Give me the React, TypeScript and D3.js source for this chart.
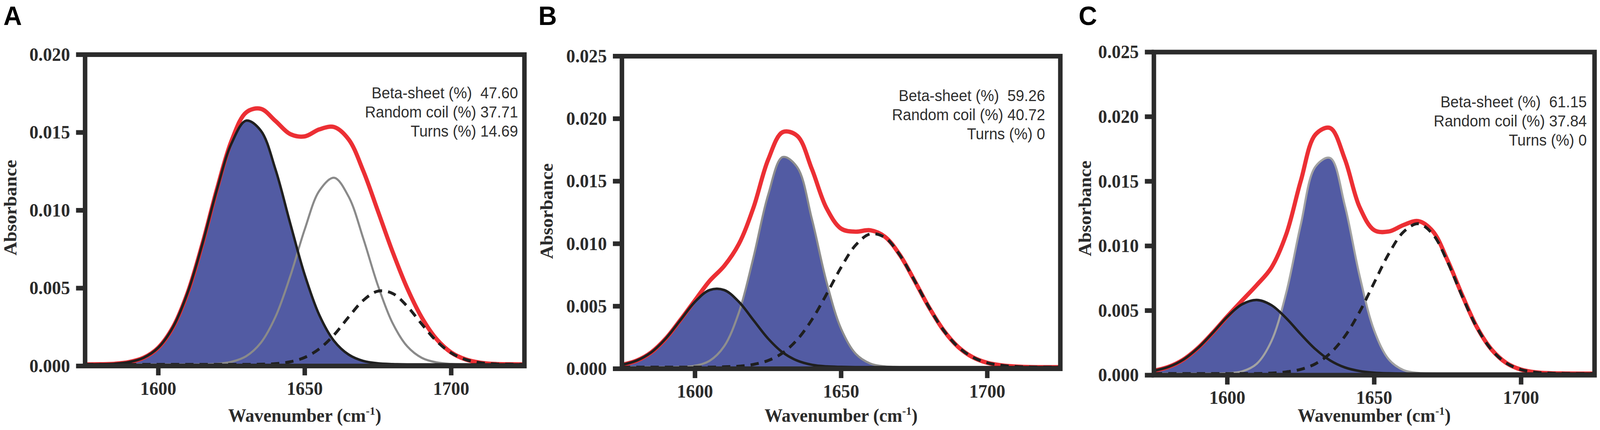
import React, { useEffect, useRef } from 'react';
import * as d3 from 'd3';

// sampled wavenumbers (cm-1) shared by every curve
const wavenumbers = [
  1575, 1580, 1585, 1590, 1595, 1600, 1605, 1610, 1615, 1620, 1625, 1630, 1635, 1640, 1645, 1650,
  1655, 1660, 1665, 1670, 1675, 1680, 1685, 1690, 1695, 1700, 1705, 1710, 1715, 1720, 1725,
];
const xTicks = [1600, 1650, 1700];
const yTicksA = [0, 0.005, 0.01, 0.015, 0.02];
const yTicksBC = [0, 0.005, 0.01, 0.015, 0.02, 0.025];

// Panel A
const aBetaSheet = [
  0, 0.00001, 0.00004, 0.00015, 0.00043, 0.00108, 0.00239, 0.0046, 0.0077, 0.01121, 0.0142, 0.01566,
  0.01502, 0.01253, 0.00909, 0.00575, 0.00316, 0.00151, 0.00063, 0.00022, 0.00007, 0.00002, 0, 0, 0,
  0, 0, 0, 0, 0, 0,
];
const aRandomCoil = [
  0, 0, 0, 0, 0, 0, 0, 0, 0.00001, 0.00004, 0.00017, 0.00053, 0.00139, 0.00306, 0.00564, 0.00868,
  0.01116, 0.01199, 0.01077, 0.00808, 0.00506, 0.00265, 0.00116, 0.00042, 0.00013, 0.00003, 0.00001,
  0, 0, 0, 0,
];
const aTurns = [
  0, 0, 0, 0, 0, 0, 0, 0, 0, 0, 0, 0, 0.00001, 0.00005, 0.00017, 0.00045, 0.00101, 0.0019, 0.00305,
  0.00412, 0.00471, 0.00456, 0.00373, 0.00258, 0.0015, 0.00074, 0.00031, 0.00011, 0.00003, 0.00001, 0,
];
const aFit = [
  0, 0.00001, 0.00004, 0.00015, 0.00043, 0.00108, 0.00239, 0.0046, 0.00771, 0.01125, 0.01437, 0.01619,
  0.01642, 0.01564, 0.0148, 0.01465, 0.0151, 0.01525, 0.01445, 0.01242, 0.00984, 0.00723, 0.00489,
  0.003, 0.00163, 0.00077, 0.00032, 0.00011, 0.00003, 0.00001, 0,
];
const notesA = ['Beta-sheet (%)  47.60', 'Random coil (%) 37.71', 'Turns (%) 14.69'];

// Panel B
const bBetaLow = [
  0.00019, 0.00052, 0.00118, 0.00229, 0.00376, 0.00523, 0.00617, 0.00617, 0.00523, 0.00376, 0.00229,
  0.00118, 0.00052, 0.00019, 0.00006, 0.00002, 0, 0, 0, 0, 0, 0, 0, 0, 0, 0, 0, 0, 0, 0, 0,
];
const bBetaHigh = [
  0, 0, 0, 0, 0.00002, 0.00012, 0.00051, 0.00168, 0.00436, 0.00878, 0.01376, 0.01681, 0.01599,
  0.01185, 0.00683, 0.00307, 0.00107, 0.00029, 0.00006, 0.00001, 0, 0, 0, 0, 0, 0, 0, 0, 0, 0, 0,
];
const bRandomCoil = [
  0, 0, 0, 0, 0, 0, 0, 0.00003, 0.00008, 0.00022, 0.00053, 0.00114, 0.00221, 0.0038, 0.00583, 0.00799,
  0.00977, 0.01066, 0.01037, 0.009, 0.00697, 0.00482, 0.00297, 0.00163, 0.0008, 0.00035, 0.00014,
  0.00005, 0.00001, 0, 0,
];
const bFit = [
  0.00019, 0.00052, 0.00118, 0.00229, 0.00378, 0.00535, 0.0069, 0.0081, 0.00985, 0.01276, 0.01658,
  0.0188, 0.0185, 0.01584, 0.01272, 0.01108, 0.01084, 0.01095, 0.01043, 0.00901, 0.00697, 0.00482,
  0.00297, 0.00163, 0.0008, 0.00035, 0.00014, 0.00005, 0.00001, 0, 0,
];
const notesB = ['Beta-sheet (%)  59.26', 'Random coil (%) 40.72', 'Turns (%) 0'];

// Panel C
const cBetaLow = [
  0.00022, 0.00052, 0.00108, 0.00198, 0.00315, 0.0044, 0.00536, 0.0057, 0.0053, 0.0043, 0.00305,
  0.00189, 0.00102, 0.00048, 0.0002, 0.00007, 0.00002, 0, 0, 0, 0, 0, 0, 0, 0, 0, 0, 0, 0, 0, 0,
];
const cBetaHigh = [
  0, 0, 0, 0, 0, 0.00003, 0.00017, 0.00076, 0.00251, 0.00621, 0.01153, 0.01602, 0.01668, 0.01301,
  0.0076, 0.00333, 0.00109, 0.00027, 0.00005, 0.00001, 0, 0, 0, 0, 0, 0, 0, 0, 0, 0, 0,
];
const cRandomCoil = [
  0, 0, 0, 0, 0, 0, 0, 0, 0.00004, 0.00013, 0.00033, 0.00076, 0.00157, 0.00289, 0.00477, 0.00704,
  0.00929, 0.01097, 0.0116, 0.01077, 0.00863, 0.00596, 0.00355, 0.00183, 0.00081, 0.00031, 0.0001,
  0.00003, 0.00001, 0, 0,
];
const cFit = [
  0.00022, 0.00052, 0.00108, 0.00198, 0.00315, 0.00443, 0.00565, 0.00685, 0.0082, 0.01075, 0.01491,
  0.0185, 0.019, 0.0166, 0.0129, 0.0111, 0.0110, 0.0115, 0.0118, 0.0110, 0.00875, 0.00605,
  0.00358, 0.00185, 0.00082, 0.00031, 0.0001, 0.00003, 0.00001, 0, 0,
];
const notesC = ['Beta-sheet (%)  61.15', 'Random coil (%) 37.84', 'Turns (%) 0'];

type Stroke = 'black' | 'gray' | 'dashed';
interface Component {
  values: number[];
  stroke: Stroke;
  filled: boolean;
}

interface Panel {
  letter: string;
  letterX: number;
  left: number;
  right: number;
  top: number;
  bottom: number;
  yMax: number;
  yTicks: number[];
  components: Component[];
  fit: number[];
  notes: string[];
  noteRight: number;
  noteTop: number;
  yTitleX: number;
  yTitleY: number;
  gray: string;
}

const panels: Panel[] = [
  {
    letter: 'A', letterX: 9, left: 226, right: 1393, top: 140, bottom: 938,
    yMax: 0.02, yTicks: yTicksA,
    components: [
      { values: aBetaSheet, stroke: 'black', filled: true },
      { values: aRandomCoil, stroke: 'gray', filled: false },
      { values: aTurns, stroke: 'dashed', filled: false },
    ],
    fit: aFit, notes: notesA, noteRight: 1376, noteTop: 252,
    yTitleX: 44, yTitleY: 532, gray: '#8a8a8a',
  },
  {
    letter: 'B', letterX: 1430, left: 1652, right: 2816.5, top: 144, bottom: 945,
    yMax: 0.025, yTicks: yTicksBC,
    components: [
      { values: bBetaHigh, stroke: 'gray', filled: true },
      { values: bBetaLow, stroke: 'black', filled: true },
      { values: bRandomCoil, stroke: 'dashed', filled: false },
    ],
    fit: bFit, notes: notesB, noteRight: 2776, noteTop: 259,
    yTitleX: 1468, yTitleY: 541, gray: '#8e8e8e',
  },
  {
    letter: 'C', letterX: 2865, left: 3065, right: 4235.5, top: 133.5, bottom: 961.5,
    yMax: 0.025, yTicks: yTicksBC,
    components: [
      { values: cBetaHigh, stroke: 'gray', filled: true },
      { values: cBetaLow, stroke: 'black', filled: true },
      { values: cRandomCoil, stroke: 'dashed', filled: false },
    ],
    fit: cFit, notes: notesC, noteRight: 4215, noteTop: 275,
    yTitleX: 2898, yTitleY: 534, gray: '#a2a2a2',
  },
];

const W = 4250;
const H = 1102;
const SERIF = "'Liberation Serif', 'Times New Roman', serif";
const SANS = "'Liberation Sans', Arial, sans-serif";
const AXIS = '#2b2b2b';

const App: React.FC = () => {
  const svgRef = useRef<SVGSVGElement>(null);

  useEffect(() => {
    if (!svgRef.current) return;
    const svg = d3.select(svgRef.current);
    svg.selectAll('*').remove();

    panels.forEach((p, pi) => {
      const x = d3.scaleLinear().domain([1575, 1725]).range([p.left, p.right]);
      const y = d3.scaleLinear().domain([0, p.yMax]).range([p.bottom, p.top]);
      const g = svg.append('g');

      const curve = d3.curveCatmullRom.alpha(0.5);
      const line = d3.line<number>()
        .x((_, i) => x(wavenumbers[i]))
        .y(v => y(v))
        .curve(curve);
      const area = d3.area<number>()
        .x((_, i) => x(wavenumbers[i]))
        .y0(y(0))
        .y1(v => y(v))
        .curve(curve);

      const clipId = `clip-${pi}`;
      g.append('clipPath').attr('id', clipId)
        .append('rect')
        .attr('x', p.left).attr('y', p.top)
        .attr('width', p.right - p.left).attr('height', p.bottom - p.top);

      // curves sit a touch above the axis line, as in the original
      const plot = g.append('g')
        .attr('clip-path', `url(#${clipId})`)
        .append('g')
        .attr('transform', 'translate(0,-4)');

      // blue fill under beta-sheet components
      p.components.filter(c => c.filled).forEach(c => {
        plot.append('path')
          .datum(c.values)
          .attr('fill', '#525ba3')
          .attr('d', area);
      });

      // fitted sum
      plot.append('path')
        .datum(p.fit)
        .attr('fill', 'none')
        .attr('stroke', '#ec2f34')
        .attr('stroke-width', 11)
        .attr('d', line);

      const order: Stroke[] = ['gray', 'black', 'dashed'];
      order.forEach(kind => {
        p.components.filter(c => c.stroke === kind).forEach(c => {
          const path = plot.append('path')
            .datum(c.values)
            .attr('fill', 'none')
            .attr('d', line);
          if (kind === 'gray') {
            path.attr('stroke', p.gray).attr('stroke-width', 5.5);
          } else if (kind === 'black') {
            path.attr('stroke', '#1f1f1f').attr('stroke-width', 6.5);
          } else {
            path.attr('stroke', '#1f1f1f').attr('stroke-width', 7.5)
              .attr('stroke-dasharray', '22,16');
          }
        });
      });

      // frame
      g.append('rect')
        .attr('x', p.left).attr('y', p.top)
        .attr('width', p.right - p.left).attr('height', p.bottom - p.top)
        .attr('fill', 'none')
        .attr('stroke', AXIS)
        .attr('stroke-width', 12);

      // y ticks
      p.yTicks.forEach(t => {
        g.append('line')
          .attr('x1', p.left - 24).attr('x2', p.left)
          .attr('y1', y(t)).attr('y2', y(t))
          .attr('stroke', AXIS).attr('stroke-width', 12);
        g.append('text')
          .attr('x', p.left - 40)
          .attr('y', y(t) + 16)
          .attr('text-anchor', 'end')
          .attr('font-family', SERIF)
          .attr('font-weight', 'bold')
          .attr('font-size', 48)
          .attr('fill', AXIS)
          .text(d3.format('.3f')(t));
      });

      // x ticks
      xTicks.forEach(t => {
        g.append('line')
          .attr('x1', x(t)).attr('x2', x(t))
          .attr('y1', p.bottom).attr('y2', p.bottom + 24)
          .attr('stroke', AXIS).attr('stroke-width', 12);
        g.append('text')
          .attr('x', x(t))
          .attr('y', p.bottom + 74)
          .attr('text-anchor', 'middle')
          .attr('font-family', SERIF)
          .attr('font-weight', 'bold')
          .attr('font-size', 48)
          .attr('fill', AXIS)
          .text(t);
      });

      // x axis title
      const xt = g.append('text')
        .attr('x', (p.left + p.right) / 2)
        .attr('y', 1081)
        .attr('text-anchor', 'middle')
        .attr('font-family', SERIF)
        .attr('font-weight', 'bold')
        .attr('font-size', 48)
        .attr('fill', AXIS);
      xt.append('tspan').text('Wavenumber (cm');
      xt.append('tspan').attr('dy', -18).attr('font-size', 30).text('-1');
      xt.append('tspan').attr('dy', 18).text(')');

      // y axis title
      g.append('text')
        .attr('transform', `translate(${p.yTitleX},${p.yTitleY}) rotate(-90)`)
        .attr('text-anchor', 'middle')
        .attr('font-family', SERIF)
        .attr('font-weight', 'bold')
        .attr('font-size', 48)
        .attr('fill', AXIS)
        .text('Absorbance');

      // secondary structure percentages
      p.notes.forEach((n, i) => {
        g.append('text')
          .attr('x', p.noteRight)
          .attr('y', p.noteTop + i * 49)
          .attr('text-anchor', 'end')
          .attr('font-family', SANS)
          .attr('font-size', 40)
          .attr('fill', '#2e2e2e')
          .style('white-space', 'pre')
          .text(n);
      });

      // panel letter
      g.append('text')
        .attr('x', p.letterX)
        .attr('y', 64)
        .attr('font-family', SANS)
        .attr('font-weight', 'bold')
        .attr('font-size', 68)
        .attr('fill', '#000')
        .text(p.letter);
    });
  }, []);

  return (
    <svg
      ref={svgRef}
      viewBox={`0 0 ${W} ${H}`}
      preserveAspectRatio="none"
      style={{ position: 'fixed', left: 0, top: 0, width: '100%', height: '100%', background: '#fff', display: 'block' }}
    />
  );
};

export default App;
